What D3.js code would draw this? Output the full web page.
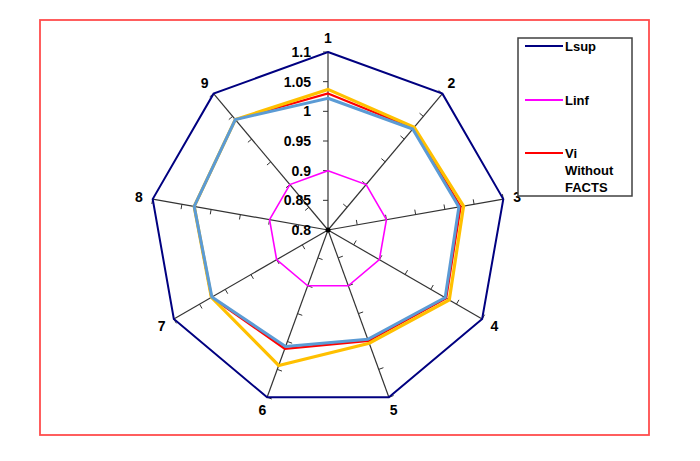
<!DOCTYPE html>
<html>
<head>
<meta charset="utf-8">
<script src="https://cdn.jsdelivr.net/npm/d3@7"></script>
<style>
  body { margin: 0; background: #fff; }
  text { font-family: "Liberation Sans", Arial, sans-serif; font-weight: bold; fill: #000; }
</style>
</head>
<body>
<div id="chart"></div>
<script>
const axesLabels = ["1", "2", "3", "4", "5", "6", "7", "8", "9"];
const tickValues = [0.8, 0.85, 0.9, 0.95, 1, 1.05, 1.1];
const tickLabels = ["0.8", "0.85", "0.9", "0.95", "1", "1.05", "1.1"];

const lsup = [1.1, 1.1, 1.1, 1.1, 1.1, 1.1, 1.1, 1.1, 1.1];
const linf = [0.9, 0.9, 0.9, 0.9, 0.9, 0.9, 0.9, 0.9, 0.9];
const viWithout = [1.030, 1.024, 1.027, 1.030, 0.999, 1.013, 1.027, 1.029, 1.043];
const viOrange = [1.037, 1.026, 1.032, 1.036, 1.003, 1.043, 1.027, 1.029, 1.043];
const viBlue = [1.022, 1.022, 1.024, 1.028, 0.996, 1.009, 1.026, 1.029, 1.043];

const series = [
  {name: "Lsup", values: lsup, color: "#000080", width: 2},
  {name: "Linf", values: linf, color: "#ff00ff", width: 1.6},
  {name: "Vi Without FACTS", values: viWithout, color: "#ff0000", width: 2.2},
  {name: "", values: viOrange, color: "#ffc000", width: 3.2},
  {name: "", values: viBlue, color: "#5b9bd5", width: 3}
];

const width = 700, height = 461;
const cx = 328, cy = 230, R = 178;

const svg = d3.select("#chart").append("svg")
  .attr("width", width)
  .attr("height", height);

// outer frame
svg.append("rect")
  .attr("x", 40).attr("y", 20)
  .attr("width", 609).attr("height", 415)
  .attr("fill", "none")
  .attr("stroke", "#ff4d4d")
  .attr("stroke-width", 1.8);

const r = d3.scaleLinear().domain([0.8, 1.1]).range([0, R]);
const angle = d3.scaleLinear().domain([0, axesLabels.length]).range([0, 2 * Math.PI]);

function pt(i, v) {
  const a = angle(i);
  return [cx + r(v) * Math.sin(a), cy - r(v) * Math.cos(a)];
}

const g = svg.append("g");

// spokes with ticks
axesLabels.forEach(function(lab, i) {
  const end = pt(i, 1.1);
  g.append("line")
    .attr("x1", cx).attr("y1", cy)
    .attr("x2", end[0]).attr("y2", end[1])
    .attr("stroke", "#333").attr("stroke-width", 1.2);
  const a = angle(i);
  // perpendicular pointing counter-clockwise
  const px = -Math.cos(a), py = -Math.sin(a);
  tickValues.slice(1).forEach(function(v) {
    const p = pt(i, v);
    g.append("line")
      .attr("x1", p[0]).attr("y1", p[1])
      .attr("x2", p[0] + px * 5).attr("y2", p[1] + py * 5)
      .attr("stroke", "#333").attr("stroke-width", 1);
  });
  const lp = [cx + (R + 14) * Math.sin(a), cy - (R + 14) * Math.cos(a)];
  g.append("text")
    .attr("x", lp[0]).attr("y", lp[1])
    .attr("text-anchor", "middle")
    .attr("dominant-baseline", "central")
    .style("font-size", "14px")
    .text(lab);
});

// series polygons
const line = d3.line().curve(d3.curveLinearClosed);
series.forEach(function(s) {
  g.append("path")
    .attr("d", line(s.values.map(function(v, i) { return pt(i, v); })))
    .attr("fill", "none")
    .attr("stroke", s.color)
    .attr("stroke-width", s.width)
    .attr("stroke-linejoin", "miter");
});

g.append("circle").attr("cx", cx).attr("cy", cy).attr("r", 2.5).attr("fill", "#000");

// value labels on axis 1
tickValues.forEach(function(v, k) {
  g.append("text")
    .attr("x", cx - 17)
    .attr("y", pt(0, v)[1])
    .attr("text-anchor", "end")
    .attr("dominant-baseline", "central")
    .style("font-size", "14px")
    .text(tickLabels[k]);
});

// legend
const leg = svg.append("g");
leg.append("rect")
  .attr("x", 518).attr("y", 38)
  .attr("width", 114).attr("height", 158)
  .attr("fill", "#fff")
  .attr("stroke", "#404040")
  .attr("stroke-width", 1.5);

const legendItems = [
  {lines: ["Lsup"], color: "#000080", y: 46},
  {lines: ["Linf"], color: "#ff00ff", y: 100},
  {lines: ["Vi", "Without", "FACTS"], color: "#ff0000", y: 153}
];
legendItems.forEach(function(it) {
  leg.append("line")
    .attr("x1", 525).attr("x2", 563)
    .attr("y1", it.y).attr("y2", it.y)
    .attr("stroke", it.color).attr("stroke-width", 2);
  it.lines.forEach(function(t, k) {
    leg.append("text")
      .attr("x", 565).attr("y", it.y + k * 17)
      .attr("dominant-baseline", "central")
      .style("font-size", "13px")
      .text(t);
  });
});
</script>
</body>
</html>
